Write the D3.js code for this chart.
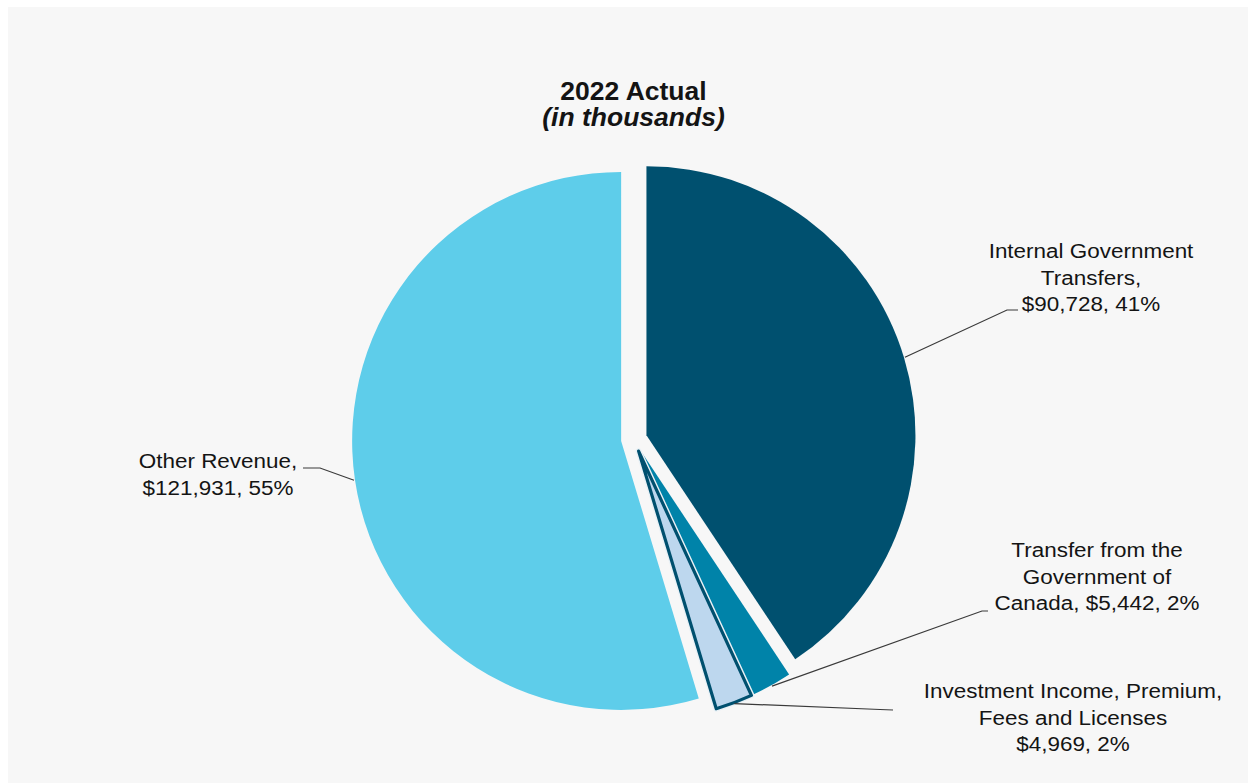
<!DOCTYPE html>
<html>
<head>
<meta charset="utf-8">
<script src="https://cdn.jsdelivr.net/npm/d3@7"></script>
<style>
  html, body { margin: 0; padding: 0; background: #ffffff; }
  svg { display: block; }
  text { font-family: "Liberation Sans", Arial, sans-serif; fill: #141414; }
</style>
</head>
<body>
<svg id="chart" width="1248" height="783"></svg>
<script>
// Revenue sources, 2022 actual (in thousands of dollars)
const categories = [
  "Internal Government Transfers",
  "Transfer from the Government of Canada",
  "Investment Income, Premium, Fees and Licenses",
  "Other Revenue"
];
const values = [90728, 5442, 4969, 121931];

// Label wording, split into lines; the value text is appended on its own line
// or joined to the last name line.
const labelNameLines = [
  ["Internal Government", "Transfers,"],
  ["Transfer from the", "Government of", "Canada,"],
  ["Investment Income, Premium,", "Fees and Licenses"],
  ["Other Revenue,"]
];
const valueJoinsLastLine = [false, true, false, false];

const titleLines = ["2022 Actual", "(in thousands)"];

// ---- drawing ----
const W = 1248, H = 783;
const svg = d3.select("#chart");

svg.append("rect")
  .attr("x", 8).attr("y", 7)
  .attr("width", W - 8).attr("height", H - 7)
  .attr("fill", "#f7f7f7");

const colors = ["#00506f", "#0083a9", "#bdd7ee", "#5ecdea"];
const cx = 634, cy = 439, radius = 269, explode = 13;

const total = d3.sum(values);
const pie = d3.pie().sort(null).value(d => d);
const arcs = pie(values);
const arcGen = d3.arc().innerRadius(0).outerRadius(radius);

const g = svg.append("g").attr("transform", `translate(${cx},${cy})`);

function offset(a) {
  const mid = (a.startAngle + a.endAngle) / 2;
  return [Math.sin(mid) * explode, -Math.cos(mid) * explode];
}

arcs.forEach((a, i) => {
  const [ox, oy] = offset(a);
  const sg = g.append("g").attr("transform", `translate(${ox},${oy})`);
  if (i === 2) {
    // highlighted slice: light halo then dark outline
    sg.append("path").attr("d", arcGen(a))
      .attr("fill", colors[i])
      .attr("stroke", "#e9f1f6").attr("stroke-width", 6)
      .attr("stroke-linejoin", "round");
    sg.append("path").attr("d", arcGen(a))
      .attr("fill", colors[i])
      .attr("stroke", "#00506f").attr("stroke-width", 3.2)
      .attr("stroke-linejoin", "round");
  } else {
    sg.append("path").attr("d", arcGen(a)).attr("fill", colors[i]);
  }
});

// Leader lines: from the outer edge at the slice's mid angle to the label
const leaderEnds = [
  [[1007, 310], [1018, 310]],
  [[982, 611], [988, 611]],
  [[880, 709.5], [893, 710]],
  [[320, 468], [303, 468]]
];
arcs.forEach((a, i) => {
  const [ox, oy] = offset(a);
  const mid = (a.startAngle + a.endAngle) / 2;
  const start = [cx + ox + Math.sin(mid) * (radius + 1), cy + oy - Math.cos(mid) * (radius + 1)];
  const pts = [start].concat(leaderEnds[i]);
  svg.append("path")
    .attr("d", d3.line()(pts))
    .attr("fill", "none")
    .attr("stroke", "#3a3a3a")
    .attr("stroke-width", 1.2);
});

// Labels
const fmtMoney = d3.format(",");
const labelAnchors = [[1091, 258], [1097, 557], [1073, 698], [218, 468]];
const lineH = 26.6;
values.forEach((v, i) => {
  const pct = Math.round(v / total * 100) + "%";
  const valueText = "$" + fmtMoney(v) + ", " + pct;
  const lines = labelNameLines[i].slice();
  if (valueJoinsLastLine[i]) lines[lines.length - 1] += " " + valueText;
  else lines.push(valueText);
  const [lx, ly] = labelAnchors[i];
  lines.forEach((t, k) => {
    svg.append("text")
      .attr("transform", `translate(${lx},${ly + k * lineH}) scale(1.07,1)`)
      .attr("text-anchor", "middle")
      .style("font-size", "21px")
      .text(t);
  });
});

// Title
svg.append("text")
  .attr("transform", "translate(633.5,100) scale(1.06,1)")
  .attr("text-anchor", "middle")
  .style("font-size", "25px").style("font-weight", "bold")
  .text(titleLines[0]);
svg.append("text")
  .attr("transform", "translate(633.5,126) scale(1.06,1)")
  .attr("text-anchor", "middle")
  .style("font-size", "25px").style("font-weight", "bold").style("font-style", "italic")
  .text(titleLines[1]);
</script>
</body>
</html>
